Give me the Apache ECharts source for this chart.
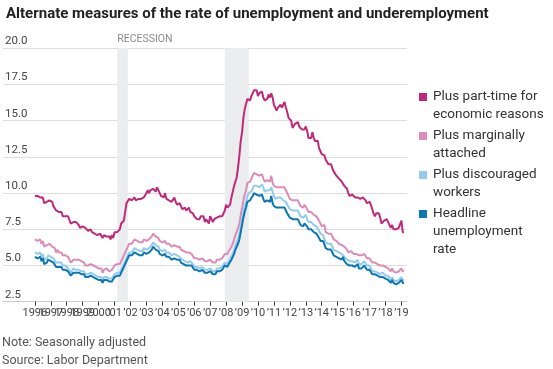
<!DOCTYPE html>
<html><head><meta charset="utf-8">
<script src="https://cdn.jsdelivr.net/npm/echarts@6/dist/echarts.min.js"></script>
<style>html,body{margin:0;padding:0;background:#fff}#c{width:553px;height:369px}</style>
</head><body><div id="c"></div>
<script>
// Monthly data, Jan 1996 – Mar 2019
const startYear = 1996;

// Headline unemployment rate (U-3)
const headline = [
5.6,5.5,5.5,5.6,5.6,5.3,5.5,5.1,5.2,5.2,5.4,5.4,
5.3,5.2,5.2,5.1,4.9,5.0,4.9,4.8,4.9,4.7,4.6,4.7,
4.6,4.6,4.7,4.3,4.4,4.5,4.5,4.5,4.6,4.5,4.4,4.4,
4.3,4.4,4.2,4.3,4.2,4.3,4.3,4.2,4.2,4.1,4.1,4.0,
4.0,4.1,4.0,3.8,4.0,4.0,4.0,4.1,3.9,3.9,3.9,3.9,
4.2,4.2,4.3,4.4,4.3,4.5,4.6,4.9,5.0,5.3,5.5,5.7,
5.7,5.7,5.7,5.9,5.8,5.8,5.8,5.7,5.7,5.7,5.9,6.0,
5.8,5.9,5.9,6.0,6.1,6.3,6.2,6.1,6.1,6.0,5.8,5.7,
5.7,5.6,5.8,5.6,5.6,5.6,5.5,5.4,5.4,5.5,5.4,5.4,
5.3,5.4,5.2,5.2,5.1,5.0,5.0,4.9,5.0,5.0,5.0,4.9,
4.7,4.8,4.7,4.7,4.6,4.6,4.7,4.7,4.5,4.4,4.5,4.4,
4.6,4.5,4.4,4.5,4.4,4.6,4.7,4.6,4.7,4.7,4.7,5.0,
5.0,4.9,5.1,5.0,5.4,5.6,5.8,6.1,6.1,6.5,6.8,7.3,
7.8,8.3,8.7,9.0,9.4,9.5,9.5,9.6,9.8,10.0,9.9,9.9,
9.8,9.8,9.9,9.9,9.6,9.4,9.4,9.5,9.5,9.4,9.8,9.3,
9.1,9.0,9.0,9.1,9.0,9.1,9.0,9.0,9.0,8.8,8.6,8.5,
8.3,8.3,8.2,8.2,8.2,8.2,8.2,8.0,7.8,7.8,7.7,7.9,
8.0,7.7,7.5,7.6,7.5,7.5,7.3,7.2,7.2,7.2,6.9,6.7,
6.6,6.7,6.7,6.2,6.3,6.1,6.2,6.1,5.9,5.7,5.8,5.6,
5.7,5.5,5.4,5.4,5.6,5.3,5.2,5.1,5.0,5.0,5.1,5.0,
4.9,4.9,5.0,5.1,4.8,4.9,4.8,4.9,5.0,4.9,4.7,4.7,
4.7,4.6,4.4,4.4,4.4,4.3,4.3,4.4,4.2,4.1,4.2,4.1,
4.1,4.1,4.0,4.0,3.8,4.0,3.8,3.8,3.7,3.8,3.8,3.9,
4.0,3.8,3.8
];

// Plus discouraged workers (U-4)
const discouraged = [
5.9,5.8,5.8,5.9,5.9,5.6,5.8,5.4,5.5,5.5,5.7,5.7,
5.6,5.5,5.5,5.4,5.2,5.3,5.2,5.1,5.2,5.0,4.9,5.0,
4.9,4.8,4.9,4.5,4.6,4.8,4.7,4.7,4.8,4.7,4.6,4.6,
4.5,4.6,4.4,4.5,4.4,4.5,4.5,4.4,4.4,4.3,4.3,4.2,
4.2,4.3,4.2,4.0,4.2,4.2,4.2,4.3,4.1,4.1,4.1,4.1,
4.4,4.4,4.5,4.6,4.5,4.7,4.8,5.1,5.2,5.5,5.7,5.9,
6.0,5.9,6.0,6.2,6.1,6.1,6.1,6.0,6.0,6.0,6.2,6.3,
6.1,6.2,6.2,6.3,6.4,6.6,6.6,6.4,6.4,6.3,6.1,6.0,
6.0,5.9,6.1,5.9,5.9,5.9,5.8,5.7,5.7,5.8,5.7,5.7,
5.6,5.6,5.5,5.4,5.4,5.3,5.2,5.2,5.3,5.3,5.3,5.1,
4.9,5.0,4.9,4.9,4.8,4.8,4.9,4.9,4.7,4.6,4.7,4.6,
4.8,4.7,4.6,4.7,4.6,4.8,4.9,4.8,4.9,4.9,4.9,5.2,
5.3,5.1,5.3,5.2,5.6,5.8,6.0,6.4,6.4,6.8,7.2,7.7,
8.2,8.7,9.1,9.4,9.8,10.0,10.0,10.1,10.3,10.5,10.4,10.5,
10.4,10.4,10.5,10.6,10.4,10.1,10.0,10.2,10.2,10.2,10.4,10.1,
9.8,9.6,9.6,9.7,9.6,9.7,9.6,9.5,9.6,9.4,9.2,9.1,
8.9,8.8,8.8,8.8,8.8,8.7,8.8,8.6,8.4,8.3,8.3,8.4,
8.5,8.2,8.0,8.1,8.0,8.0,7.8,7.7,7.7,7.7,7.4,7.2,
7.1,7.1,7.1,6.6,6.7,6.5,6.6,6.5,6.3,6.1,6.2,6.0,
6.1,5.9,5.8,5.8,5.9,5.6,5.6,5.4,5.3,5.3,5.4,5.3,
5.2,5.2,5.3,5.4,5.1,5.2,5.1,5.2,5.3,5.2,5.0,5.0,
5.0,4.9,4.6,4.6,4.6,4.6,4.5,4.6,4.4,4.3,4.5,4.4,
4.3,4.3,4.3,4.2,4.0,4.2,4.0,4.0,3.9,4.0,4.0,4.1,
4.2,4.0,4.0
];

// Plus marginally attached (U-5)
const marginally = [
6.8,6.7,6.7,6.8,6.8,6.5,6.7,6.3,6.4,6.4,6.5,6.5,
6.4,6.3,6.3,6.2,5.9,6.1,5.9,5.8,5.9,5.7,5.6,5.7,
5.6,5.6,5.6,5.2,5.3,5.4,5.4,5.4,5.5,5.4,5.3,5.3,
5.2,5.2,5.0,5.1,5.0,5.1,5.1,5.0,5.0,4.9,4.9,4.8,
4.8,4.9,4.8,4.5,4.7,4.7,4.8,4.8,4.6,4.6,4.7,4.6,
5.0,5.0,5.1,5.2,5.1,5.3,5.4,5.7,5.8,6.1,6.3,6.5,
6.6,6.5,6.6,6.8,6.7,6.7,6.7,6.6,6.6,6.6,6.8,6.9,
6.7,6.8,6.8,6.9,7.0,7.2,7.2,7.0,7.0,6.9,6.7,6.6,
6.6,6.5,6.7,6.5,6.5,6.5,6.4,6.3,6.3,6.4,6.3,6.3,
6.2,6.3,6.1,6.1,6.0,5.9,5.9,5.8,5.9,5.9,5.8,5.7,
5.5,5.6,5.5,5.5,5.4,5.4,5.5,5.5,5.3,5.2,5.3,5.2,
5.4,5.3,5.2,5.3,5.2,5.4,5.5,5.4,5.5,5.5,5.5,5.8,
5.9,5.8,6.0,5.9,6.3,6.5,6.8,7.1,7.1,7.6,7.9,8.5,
9.0,9.5,9.9,10.2,10.7,10.8,10.8,10.9,11.2,11.4,11.3,11.3,
11.2,11.2,11.3,11.3,11.0,10.8,10.8,10.9,10.9,10.8,11.2,10.7,
10.5,10.4,10.4,10.5,10.4,10.5,10.4,10.4,10.4,10.2,10.0,9.9,
9.6,9.6,9.5,9.5,9.5,9.5,9.5,9.3,9.1,9.1,9.0,9.2,
9.2,8.9,8.7,8.8,8.7,8.7,8.5,8.4,8.4,8.4,8.1,7.9,
7.7,7.8,7.8,7.3,7.4,7.2,7.3,7.2,7.0,6.8,6.9,6.7,
6.7,6.5,6.4,6.4,6.5,6.3,6.2,6.1,5.9,5.9,6.0,5.9,
5.8,5.7,5.8,5.9,5.7,5.8,5.7,5.7,5.8,5.7,5.5,5.5,
5.5,5.4,5.2,5.2,5.2,5.1,5.1,5.2,5.0,4.9,5.0,4.9,
4.9,4.9,4.8,4.8,4.6,4.8,4.6,4.6,4.5,4.6,4.6,4.7,
4.8,4.6,4.6
];

// Plus part-time for economic reasons (U-6)
const partTime = [
9.8,9.8,9.8,9.9,9.7,9.6,9.7,9.3,9.4,9.4,9.3,9.5,
9.4,9.4,9.1,9.2,8.8,8.9,8.7,8.6,8.7,8.4,8.3,8.4,
8.4,8.4,8.4,7.9,7.9,8.0,8.1,8.0,7.9,7.8,7.6,7.6,
7.7,7.7,7.6,7.6,7.4,7.5,7.5,7.3,7.4,7.2,7.1,7.1,
7.1,7.2,7.1,6.9,7.1,7.0,7.0,7.1,7.0,6.8,7.1,6.9,
7.3,7.4,7.3,7.4,7.5,7.9,7.8,8.1,8.7,9.3,9.4,9.6,
9.5,9.5,9.4,9.7,9.5,9.5,9.6,9.6,9.6,9.6,9.7,9.8,
10.0,10.2,10.0,10.2,10.1,10.3,10.3,10.1,10.4,10.2,10.0,9.8,
9.9,9.7,10.0,9.6,9.6,9.5,9.5,9.4,9.4,9.7,9.4,9.2,
9.3,9.3,9.1,8.9,8.9,9.0,8.8,8.9,9.0,8.7,8.7,8.6,
8.4,8.4,8.2,8.1,8.2,8.4,8.5,8.4,8.0,8.2,8.1,7.9,
8.4,8.2,8.0,8.2,8.2,8.3,8.4,8.4,8.4,8.4,8.4,8.8,
9.2,9.0,9.1,9.2,9.7,10.1,10.5,10.8,11.1,11.8,12.6,13.6,
14.2,15.2,15.8,15.9,16.5,16.5,16.4,16.7,16.7,17.1,17.1,17.1,
16.7,16.9,16.9,17.0,16.6,16.4,16.4,16.5,16.8,16.6,16.9,16.6,
16.1,15.9,15.7,15.9,15.8,16.1,15.9,16.1,16.3,15.9,15.6,15.2,
15.2,15.0,14.5,14.6,14.8,14.8,14.9,14.6,14.7,14.4,14.4,14.4,
14.6,14.3,13.8,13.9,13.8,14.2,13.8,13.6,13.5,13.6,13.1,13.1,
12.7,12.6,12.6,12.3,12.2,12.0,12.1,12.0,11.7,11.5,11.4,11.2,
11.3,11.0,10.9,10.8,10.7,10.5,10.4,10.3,10.0,9.8,9.9,9.9,
9.9,9.7,9.8,9.7,9.6,9.6,9.7,9.7,9.7,9.5,9.3,9.2,
9.4,9.2,8.9,8.6,8.4,8.6,8.6,8.6,8.3,7.9,8.0,8.1,
8.2,8.2,8.0,7.8,7.6,7.8,7.5,7.4,7.5,7.4,7.6,7.6,
8.1,7.3,7.3
];

const seriesNames = [
  'Plus part-time for\neconomic reasons',
  'Plus marginally\nattached',
  'Plus discouraged\nworkers',
  'Headline\nunemployment\nrate'
];
const seriesColors = ['#c0287a', '#db8cb8', '#92cbee', '#0b77b3'];
const seriesData = [partTime, marginally, discouraged, headline];

const yearTicks = [];
for (let y = 1996; y <= 2019; y++) yearTicks.push(y);
const yTickLabels = ['2.5','5.0','7.5','10.0','12.5','15.0','17.5','20.0'];
const recessions = [[2001.17, 2001.83], [2007.92, 2009.42]];
const xMin = 1994, xMax = 2019.35;

const FONT = 'Roboto, sans-serif';
const toPairs = arr => arr.map((v, i) => [startYear + i / 12, v]);

const series = seriesData.map((arr, k) => {
  const s = {
    name: seriesNames[k],
    type: 'line',
    data: toPairs(arr),
    showSymbol: false,
    symbol: 'none',
    lineStyle: { color: seriesColors[k], width: 2 },
    itemStyle: { color: seriesColors[k] },
    silent: true,
    animation: false
  };
  if (k === 0) {
    s.markArea = {
      silent: true,
      itemStyle: { color: '#ebecee' },
      data: recessions.map((r, i) => [
        { xAxis: r[0], label: { show: i === 0, formatter: 'RECESSION', position: [0, -3], align: 'left', verticalAlign: 'bottom', color: '#8a8a8a', fontSize: 10.5, fontFamily: FONT } },
        { xAxis: r[1] }
      ])
    };
  }
  return s;
});

// legend built from series names/colors
const legendGraphics = [];
let legendTop = 88;
seriesNames.forEach((name, k) => {
  const lines = name.split('\n').length;
  legendGraphics.push({
    type: 'rect', left: 419, top: legendTop + 5, shape: { width: 8, height: 8 },
    style: { fill: seriesColors[k] }, silent: true
  });
  legendGraphics.push({
    type: 'text', left: 433, top: legendTop,
    style: { text: name, fill: '#333', font: '13.5px ' + FONT, lineHeight: 18 }, silent: true
  });
  legendTop += lines * 18 + 3;
});

// label positions: empty guards at the axis ends so no year label gets dropped
const labelValues = [xMin, ...yearTicks, xMax];

const chart = echarts.init(document.getElementById('c'), null, { renderer: 'canvas' });
chart.setOption({
  animation: false,
  backgroundColor: '#fff',
  title: {
    text: 'Alternate measures of the rate of unemployment and underemployment',
    left: 1, top: 2,
    textStyle: { fontFamily: FONT, fontWeight: 'bold', fontSize: 15, color: '#222' }
  },
  grid: { left: 0, right: 146, top: 48.3, bottom: 67.3, containLabel: false },
  xAxis: {
    type: 'value', min: xMin, max: xMax,
    axisLine: { show: true, lineStyle: { color: '#cccccc', width: 1 } },
    axisTick: { show: true, customValues: yearTicks, length: 4, lineStyle: { color: '#333' } },
    axisLabel: {
      customValues: labelValues, margin: 6, hideOverlap: false,
      fontFamily: FONT, fontSize: 11, color: '#444',
      formatter: v => (v < 1996 || v > 2019) ? '' : (v <= 2000 ? String(v) : '\u2019' + String(v).slice(2))
    },
    splitLine: { show: false }
  },
  yAxis: {
    type: 'value', min: 2.5, max: 20, interval: 2.5,
    axisLine: { show: false }, axisTick: { show: false },
    axisLabel: {
      inside: true, margin: 2, verticalAlign: 'bottom', padding: [0, 0, 1, 0],
      fontFamily: FONT, fontSize: 11.5, color: '#444',
      formatter: v => yTickLabels[Math.round((v - 2.5) / 2.5)]
    },
    splitLine: { lineStyle: { color: '#dddddd', width: 1 } }
  },
  series: series,
  graphic: [
    ...legendGraphics,
    { type: 'text', left: 2, top: 336, silent: true,
      style: { text: 'Note: Seasonally adjusted', fill: '#555', font: '12.5px ' + FONT } },
    { type: 'text', left: 2, top: 354, silent: true,
      style: { text: 'Source: Labor Department', fill: '#555', font: '12.5px ' + FONT } }
  ]
});
</script>
</body></html>
